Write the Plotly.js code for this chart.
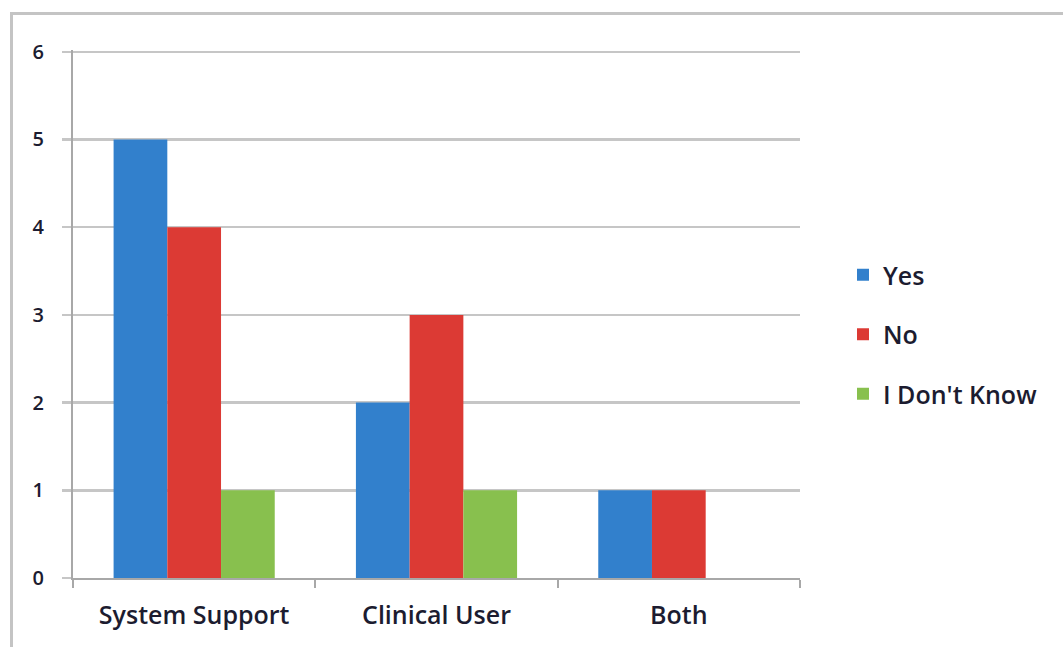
<!DOCTYPE html>
<html>
<head>
<meta charset="utf-8">
<script src="https://cdn.plot.ly/plotly-3.0.1.min.js"></script>
<style>
  html, body { margin: 0; padding: 0; background: #ffffff; }
  #chart { width: 1064px; height: 647px; }
</style>
</head>
<body>
<div id="chart"></div>
<script>
// Survey answers by respondent role
const categories = ['System Support', 'Clinical User', 'Both'];
const yesValues = [5, 2, 1];
const noValues = [4, 3, 1];
const dontKnowValues = [1, 1, 0];
const seriesNames = ['Yes', 'No', "I Don't Know"];

const W = 1064, H = 647;
const M = { l: 73, r: 264, t: 50, b: 69 };
const plotW = W - M.l - M.r, plotH = H - M.t - M.b;
// pixel -> paper coordinates for the outer frame and legend
const px = x => (x - M.l) / plotW;
const py = y => (H - M.b - y) / plotH;

const font = '"Open Sans", "Noto Sans", sans-serif';
const textColor = '#1c1c30';

function barTrace(name, values, color, group) {
  return {
    type: 'bar', name: name, x: categories, y: values,
    legendgroup: group,
    marker: { color: color, line: { width: 0 } },
    hoverinfo: 'x+y+name'
  };
}

const data = [
  barTrace(seriesNames[0], yesValues, '#3280cc', 'g1'),
  barTrace(seriesNames[1], noValues, '#dc3a34', 'g2'),
  barTrace(seriesNames[2], dontKnowValues, '#88c04e', 'g3')
];

const layout = {
  width: W, height: H,
  margin: M,
  paper_bgcolor: '#ffffff', plot_bgcolor: '#ffffff',
  barmode: 'group', bargap: 0.335, bargroupgap: 0,
  font: { family: font, color: textColor, size: 20 },
  showlegend: true,
  legend: {
    x: px(843), y: py(252), xanchor: 'left', yanchor: 'top',
    font: { family: font, size: 25, weight: 600, color: textColor },
    tracegroupgap: 24, itemwidth: 30,
    bgcolor: 'rgba(0,0,0,0)'
  },
  xaxis: {
    type: 'category',
    showgrid: false,
    showline: true, linecolor: '#a8a8a8', linewidth: 2,
    ticks: 'outside', tickson: 'boundaries', ticklen: 8,
    tickcolor: '#a8a8a8', tickwidth: 2,
    tickfont: { family: font, size: 25, weight: 600, color: textColor },
    ticklabelstandoff: 14,
    zeroline: false, fixedrange: true
  },
  yaxis: {
    range: [0, 6.02], dtick: 1, tick0: 0,
    showgrid: true, gridcolor: '#c6c6c6', gridwidth: 2.5,
    showline: true, linecolor: '#a8a8a8', linewidth: 2,
    ticks: 'outside', ticklen: 9, tickcolor: '#c6c6c6', tickwidth: 2.5,
    tickfont: { family: font, size: 20, weight: 600, color: textColor },
    ticklabelstandoff: 14,
    zeroline: false, fixedrange: true
  },
  shapes: [
    { type: 'line', xref: 'paper', yref: 'paper',
      x0: px(11.5), x1: px(11.5), y0: py(12), y1: py(660),
      line: { color: '#c4c4c4', width: 3 } },
    { type: 'line', xref: 'paper', yref: 'paper',
      x0: px(10), x1: px(1063), y0: py(13.5), y1: py(13.5),
      line: { color: '#c4c4c4', width: 3 } }
  ]
};

Plotly.newPlot('chart', data, layout, { displayModeBar: false, staticPlot: true });
</script>
</body>
</html>
